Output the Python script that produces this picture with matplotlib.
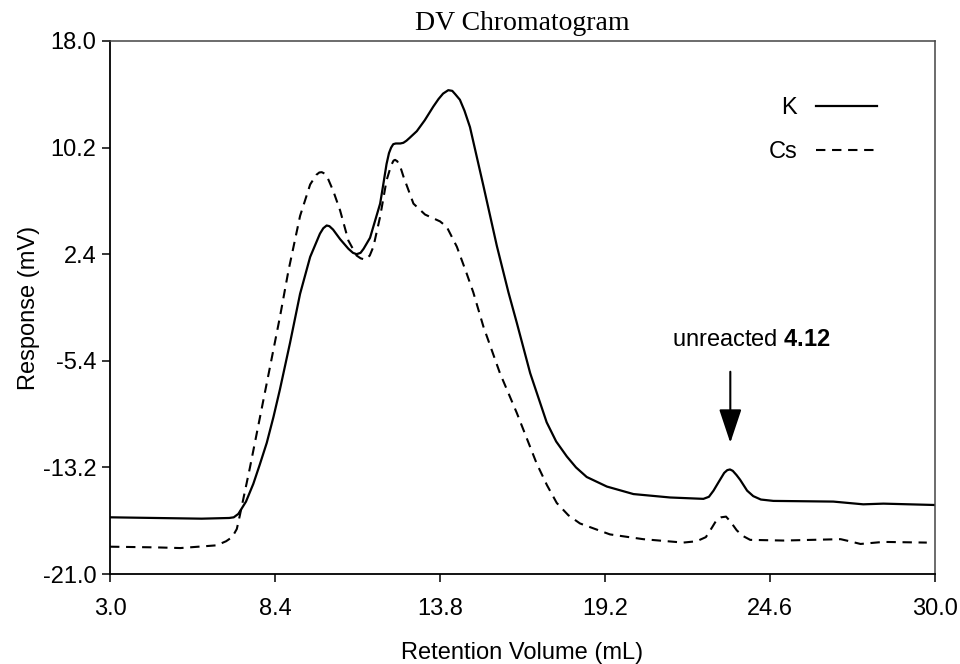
import matplotlib
matplotlib.use("Agg")
import matplotlib.pyplot as plt

plt.rcParams["font.family"] = ["Liberation Sans", "DejaVu Sans"]
plt.rcParams["mathtext.fontset"] = "custom"
plt.rcParams["mathtext.bf"] = "Liberation Sans:bold"
plt.rcParams["mathtext.rm"] = "Liberation Sans"

# retention volume (mL) / response (mV) for each counter-ion
k_volume = [3.0, 4.5, 6.0, 6.9, 7.05, 7.2, 7.45, 7.69, 7.9, 8.13, 8.35, 8.56,
            8.89, 9.22, 9.55, 9.87, 9.98, 10.09, 10.18, 10.3, 10.53, 10.8,
            10.95, 11.07, 11.2, 11.3, 11.51, 11.84, 11.95, 12.05, 12.13, 12.2,
            12.27, 12.35, 12.5, 12.6, 12.7, 12.8, 13.04, 13.3, 13.58, 13.75,
            13.9, 14.07, 14.2, 14.3, 14.45, 14.6, 14.78, 15.22, 15.66, 16.04,
            16.31, 16.75, 17.29, 17.6, 17.95, 18.25, 18.6, 19.26, 20.13, 21.33,
            22.42, 22.6, 22.75, 22.91, 23.1, 23.2, 23.29, 23.38, 23.5, 23.62,
            23.85, 24.05, 24.3, 24.71, 26.67, 27.65, 28.31, 30.0]
k_response = [-16.85, -16.9, -16.95, -16.9, -16.85, -16.6, -15.7, -14.4, -13.0,
              -11.4, -9.5, -7.5, -4.1, -0.5, 2.2, 3.9, 4.3, 4.5, 4.45, 4.2, 3.5,
              2.8, 2.5, 2.4, 2.5, 2.8, 3.6, 6.1, 7.6, 9.0, 9.8, 10.2, 10.45,
              10.5, 10.5, 10.55, 10.7, 10.9, 11.4, 12.2, 13.2, 13.75, 14.15,
              14.4, 14.35, 14.1, 13.7, 12.9, 11.7, 7.4, 3.0, -0.4, -2.6, -6.3,
              -9.9, -11.3, -12.4, -13.2, -13.9, -14.6, -15.15, -15.4, -15.5,
              -15.35, -14.9, -14.3, -13.6, -13.4, -13.35, -13.45, -13.75, -14.1,
              -14.9, -15.3, -15.55, -15.65, -15.7, -15.9, -15.85, -15.95]

cs_volume = [3.0, 4.5, 5.3, 6.49, 6.8, 6.93, 7.05, 7.15, 7.25, 7.58, 7.91,
             8.24, 8.56, 8.84, 9.22, 9.55, 9.75, 9.85, 9.93, 10.02, 10.1, 10.31,
             10.53, 10.8, 11.07, 11.2, 11.35, 11.5, 11.62, 11.84, 12.05, 12.2,
             12.28, 12.33, 12.4, 12.5, 12.6, 12.93, 13.31, 13.8, 14.02, 14.35,
             14.67, 14.89, 15.22, 15.76, 16.31, 16.96, 17.3, 17.62, 18.0,
             18.38, 19.36, 20.45, 21.76, 22.2, 22.5, 22.7, 22.85, 23.0, 23.16,
             23.3, 23.51, 23.7, 23.95, 25.04, 26.91, 27.2, 27.56, 28.31, 29.73]
cs_response = [-19.0, -19.05, -19.1, -18.9, -18.6, -18.4, -18.1, -17.7, -16.7,
               -13.2, -9.5, -5.8, -2.2, 1.2, 5.2, 7.5, 8.2, 8.38, 8.4, 8.3, 8.1,
               7.0, 5.6, 3.4, 2.3, 2.1, 2.0, 2.3, 2.95, 5.15, 7.8, 8.9, 9.25,
               9.3, 9.2, 8.8, 8.1, 6.1, 5.3, 4.8, 4.4, 2.95, 1.0, -0.4, -2.9,
               -6.3, -9.2, -12.9, -14.5, -15.8, -16.7, -17.3, -18.1, -18.45,
               -18.7, -18.6, -18.3, -17.6, -17.05, -16.85, -16.8, -17.15, -17.8,
               -18.2, -18.5, -18.55, -18.45, -18.6, -18.8, -18.65, -18.7]

x_ticks = [3.0, 8.4, 13.8, 19.2, 24.6, 30.0]
y_ticks = [-21.0, -13.2, -5.4, 2.4, 10.2, 18.0]

# unreacted polymer peak marker
peak_x = 23.3
arrow_top = -6.2
arrow_tip = -11.4
label_y = -3.9

fig = plt.figure(figsize=(9.6, 6.64), dpi=100)
ax = fig.add_axes([0.1146, 0.1355, 0.8594, 0.8028])

ax.plot(k_volume, k_response, color="black", lw=1.6, label="K")
ax.plot(cs_volume, cs_response, color="black", lw=1.5,
        linestyle=(0, (4.5, 3.2)), label="Cs")

ax.set_xlim(3.0, 30.0)
ax.set_ylim(-21.0, 18.0)
ax.set_xticks(x_ticks)
ax.set_yticks(y_ticks)
ax.set_xticklabels([f"{v:.1f}" for v in x_ticks])
ax.set_yticklabels([f"{v:.1f}" for v in y_ticks])
ax.tick_params(axis="both", direction="out", length=6, width=1.1,
               labelsize=17, colors="black")
ax.tick_params(axis="x", pad=11)
ax.tick_params(axis="y", pad=4)

for side in ["left", "bottom"]:
    ax.spines[side].set_linewidth(1.3)
    ax.spines[side].set_color("black")
for side in ["top", "right"]:
    ax.spines[side].set_linewidth(1.1)
    ax.spines[side].set_color("#444444")

ax.set_xlabel("Retention Volume (mL)", fontsize=17, labelpad=16)
ax.set_ylabel("Response (mV)", fontsize=17, labelpad=2)
ax.set_title("DV Chromatogram", fontsize=20, pad=8,
             fontfamily=["Liberation Serif", "DejaVu Serif"])

ax.legend(loc="upper right", bbox_to_anchor=(0.93, 0.895), frameon=False,
          markerfirst=False, alignment="right", fontsize=17,
          handlelength=2.6, handletextpad=0.8, labelspacing=0.95,
          borderpad=0, borderaxespad=0)

ax.annotate("", xy=(peak_x, arrow_tip), xytext=(peak_x, arrow_top),
            arrowprops=dict(arrowstyle="-|>,head_length=0.75,head_width=0.25",
                            mutation_scale=28, color="black", lw=1.5,
                            shrinkA=0, shrinkB=0))
ax.text(24.0, label_y, r"unreacted $\mathbf{4.12}$", fontsize=17,
        ha="center", va="center")

fig.savefig("out.png", dpi=100)
